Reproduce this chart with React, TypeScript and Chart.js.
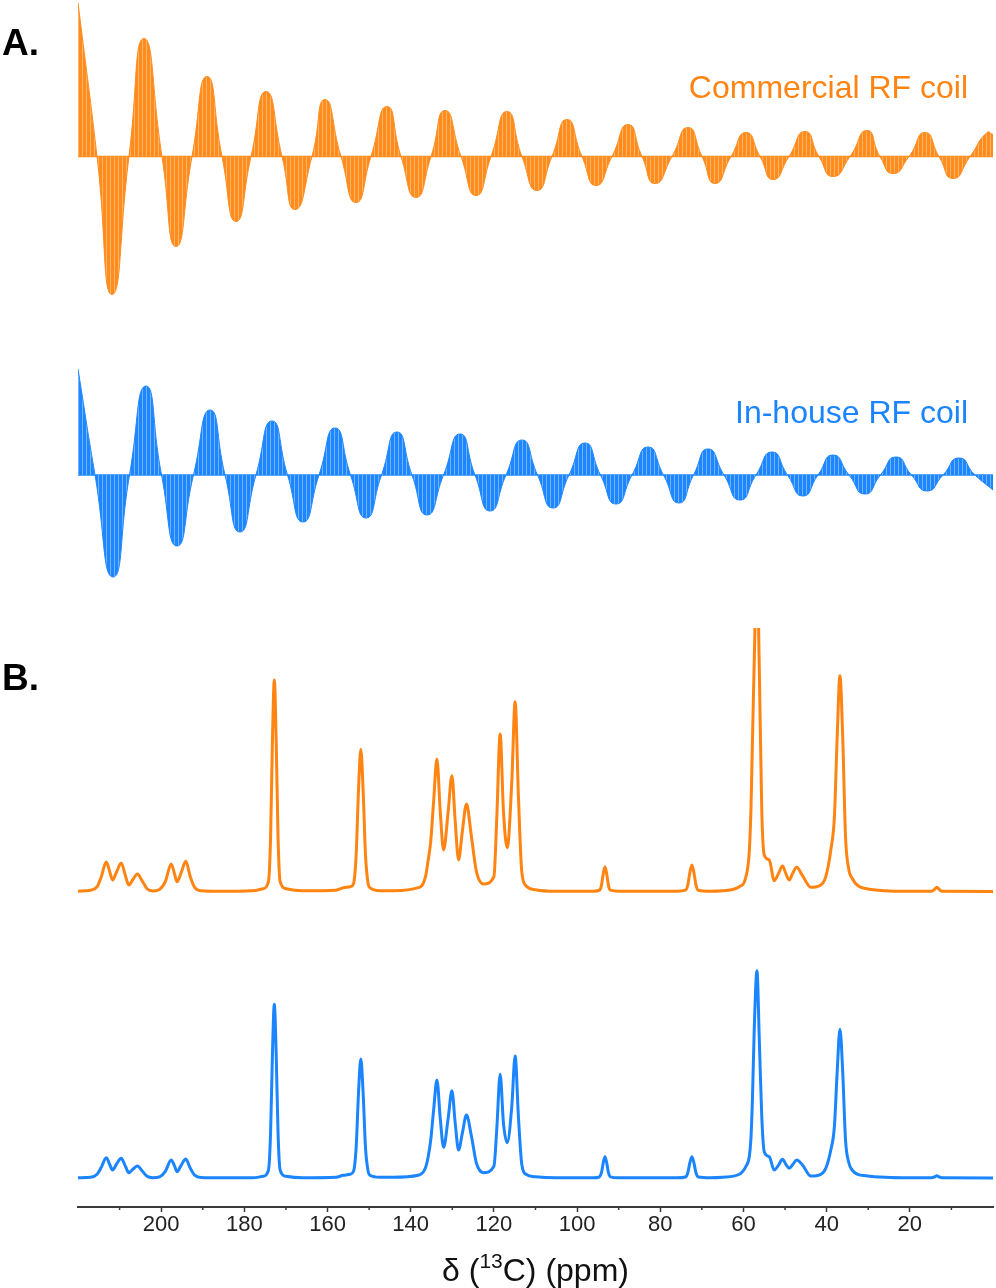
import React, { useEffect, useRef } from 'react';
import { Chart, registerables } from 'chart.js';

Chart.register(...registerables);

const FONT = '"Liberation Sans", Arial, Helvetica, sans-serif';
const ORANGE = '#FF8412';
const BLUE = '#1A85FF';
const ORANGE_FID = '#FF8C1F';
const ORANGE_FID_LIGHT = '#FFB466';
const BLUE_FID = '#1E87FF';
const BLUE_FID_LIGHT = '#70B2FF';

// ---------- Panel A: FIDs (time in ms, amplitude in a.u.; lobe extremes and zero crossings) ----------
const commercialFidTime = [
  0, 2.08, 3.72, 5.57, 7.21, 9.18, 10.71, 12.46, 14.1, 15.74, 17.27, 18.91, 20.55, 22.3, 23.72, 25.57,
  26.99, 28.74, 30.38, 32.02, 33.77, 35.3, 36.94, 38.58, 40.11, 41.86, 43.5, 45.14, 46.89, 48.52, 50.16,
  51.8, 53.44, 55.08, 56.61, 58.36, 60.11, 61.64, 63.06, 64.92, 66.67, 68.2, 69.62, 71.37, 73.01, 74.54,
  75.96, 77.7, 79.45, 80.98, 82.51, 84.37, 86.23, 87.65, 89.07, 90.82, 92.57, 94.1, 95.63, 97.49, 99.34, 100,
];
const commercialFidAmp = [
  154, 0, -138, 0, 118, 0, -90, 0, 80, 0, -65, 0, 65, 0, -53, 0, 57, 0, -46, 0, 50, 0, -41, 0, 46, 0, -39,
  0, 45, 0, -34, 0, 37, 0, -29, 0, 32, 0, -27, 0, 29, 0, -27, 0, 24, 0, -23, 0, 25, 0, -20, 0, 26, 0, -17,
  0, 24, 0, -22, 0, 24, 22,
];
const inHouseFidTime = [
  0, 1.86, 3.83, 5.63, 7.43, 9.13, 10.82, 12.62, 14.43, 16.07, 17.7, 19.45, 21.2, 22.9, 24.59, 26.34,
  28.09, 29.78, 31.48, 33.17, 34.86, 36.5, 38.14, 39.95, 41.75, 43.39, 45.03, 46.78, 48.52, 50.22, 51.91,
  53.66, 55.41, 57.1, 58.8, 60.55, 62.3, 63.99, 65.68, 67.27, 68.85, 70.6, 72.35, 74.1, 75.85, 77.54,
  79.23, 80.87, 82.51, 84.26, 86.01, 87.7, 89.4, 91.09, 92.79, 94.54, 96.28, 98.03, 100,
];
const inHouseFidAmp = [
  106, 0, -102, 0, 89, 0, -71, 0, 65, 0, -57, 0, 54, 0, -47, 0, 47, 0, -43, 0, 43, 0, -40, 0, 41, 0, -36,
  0, 35, 0, -33, 0, 32, 0, -29, 0, 28, 0, -28, 0, 26, 0, -25, 0, 23, 0, -21, 0, 20, 0, -19, 0, 18, 0, -16,
  0, 17, 0, -15,
];
const fidBaselineTime = [0, 100];

// ---------- Panel B: 13C spectra (chemical shift in ppm, intensity in a.u.) ----------
const shiftPpm = [
  220, 217, 215.4, 214.4, 213.2, 212.3, 211.7, 210.7, 209.6, 208.6, 207.8, 206.7, 205.7, 204.6, 203.4, 202,
  200.4, 199, 197.6, 196.8, 196.2, 195.2, 194.1, 193, 191.9, 190.4, 186, 178, 175.5, 174.21, 173.7, 173.25,
  172.8, 172.35, 171.9, 171.39, 170, 166, 158, 156.2, 154.6, 153.76, 153.12, 152.56, 152, 151.44, 150.88,
  150.24, 149.8, 147.4, 144.3, 138.2, 136.5, 135.8, 135.2, 134.5, 133.7, 132.9, 132.1, 131, 130.1, 129.3,
  128.5, 127.6, 126.6, 125.4, 124.2, 122.5, 120, 119.3, 118.5, 117.7, 116.8, 115.7, 114.9, 114.1, 113.3,
  112.3, 110, 105, 96, 94.62, 94.14, 93.72, 93.3, 92.88, 92.46, 91.98, 90, 76, 73.94, 73.38, 72.89, 72.4,
  71.91, 71.42, 70.86, 68, 65, 61, 59.4, 58.6, 58.2, 57.85, 57.4, 56.75, 56.2, 55.6, 55, 53.8, 52.6,
  51.6, 50.6, 49.8, 49, 48.1, 47.2, 45.8, 43.8, 41.4, 40.2, 39, 38.13, 37.47, 36.8, 36.13, 35.47, 34.7,
  33.8, 32.5, 30.6, 26, 20, 14.7, 14.1, 13.5, 12.9, 12.3, 0,
];
const commercialIntensity = [
  0.5, 1.5, 5, 15, 29.7, 19, 11.7, 20, 28.7, 16, 6.7, 13, 17.7, 11, 3, 0.8, 2.3, 10, 27.7, 18, 10, 19,
  30.4, 15, 4, 1, 0.5, 1, 3, 10, 54, 151, 211.7, 151, 54, 10, 3, 1, 1.5, 4, 5, 8, 37, 101, 142.4, 101, 37,
  8, 4, 1, 1, 4, 14, 31.7, 50, 90, 132.7, 80, 41.7, 80, 116, 70, 31.7, 60, 87.7, 55, 20, 7.7, 15, 75,
  157.7, 80, 44, 110, 190, 95, 20, 6, 2, 0.5, 0.5, 1.5, 6.4, 17.8, 25, 17.8, 6.4, 1.5, 0.5, 0.5, 1.5,
  6.9, 19, 26.7, 19, 6.9, 1.5, 0.5, 1, 5, 15, 40, 82, 148, 232, 330, 226, 82, 36.7, 31.7, 11, 18, 25.7,
  18, 11.7, 19, 24.4, 16, 4.4, 6.7, 15, 41.7, 75, 154, 216, 154, 56, 23, 13, 6, 3.2, 1, 0.5, 0.5, 2.2,
  4.4, 2.2, 0.5, 0.3,
];
const inHouseIntensity = [
  0.5, 1, 4, 11, 20.6, 13, 8.3, 14.5, 20, 12, 5.6, 9.5, 12.3, 7.5, 2, 0.6, 1.5, 7, 18.3, 12.5, 6.6, 13,
  19.3, 10, 3, 0.8, 0.5, 0.5, 2, 8, 45, 124, 174, 124, 45, 8, 2, 0.5, 1, 3, 4, 7, 31, 85, 119.3, 85, 31,
  7, 3, 1, 1, 3, 10, 21.6, 38, 68, 98.3, 60, 31, 60, 87.6, 55, 28.3, 45, 63.3, 42, 15, 5.6, 12, 50, 104,
  55, 35.6, 72, 122.3, 61, 14, 4, 1.5, 0.5, 0.5, 1.5, 5.6, 15.4, 21.6, 15.4, 5.6, 1.5, 0.5, 0.5, 1.3,
  5.6, 15.4, 21.6, 15.4, 5.6, 1.3, 0.5, 1, 4, 12, 21.6, 40, 78, 150, 207.6, 140, 62, 26.6, 21.6, 8.3, 13,
  19, 14, 10, 14, 18.3, 13.3, 2.3, 4, 10, 28.3, 52, 106, 149, 106, 39, 16, 8, 4, 2.6, 1, 0.5, 0.5, 1.3,
  2.6, 1.3, 0.5, 0.3,
];

const majorTicksPpm = [200, 180, 160, 140, 120, 100, 80, 60, 40, 20];
const minorTicksPpm = [210, 190, 170, 150, 130, 110, 90, 70, 50, 30, 10];

function stripePattern(base: string, light: string): CanvasPattern | string {
  const c = document.createElement('canvas');
  c.width = 4;
  c.height = 8;
  const g = c.getContext('2d');
  if (!g) return base;
  g.fillStyle = base;
  g.fillRect(0, 0, 4, 8);
  g.fillStyle = light;
  g.fillRect(2, 0, 1, 8);
  return g.createPattern(c, 'repeat') || base;
}

const minorTickPlugin = {
  id: 'minorTicks',
  afterDraw(chart: any) {
    const s = chart.scales.x;
    if (!s || !s.options.display) return;
    const ctx = chart.ctx;
    ctx.save();
    ctx.strokeStyle = '#3a3a3a';
    ctx.lineWidth = 1.5;
    for (const v of minorTicksPpm) {
      const px = s.getPixelForValue(v);
      ctx.beginPath();
      ctx.moveTo(px, s.top);
      ctx.lineTo(px, s.top + 3);
      ctx.stroke();
    }
    // axis title with a real superscript
    const parts = [
      { text: 'δ (', size: 32, rise: 0 },
      { text: '13', size: 21, rise: 13 },
      { text: 'C) (ppm)', size: 32, rise: 0 },
    ];
    let total = 0;
    const widths = parts.map((p) => {
      ctx.font = `${p.size}px ${FONT}`;
      const w = ctx.measureText(p.text).width;
      total += w;
      return w;
    });
    let x = (s.left + s.right) / 2 - total / 2;
    const baseline = s.bottom - 7;
    ctx.fillStyle = '#111';
    ctx.textBaseline = 'alphabetic';
    ctx.textAlign = 'left';
    parts.forEach((p, i) => {
      ctx.font = `${p.size}px ${FONT}`;
      ctx.fillText(p.text, x, baseline - p.rise);
      x += widths[i];
    });
    ctx.restore();
  },
};

export default function App() {
  const fidRef = useRef<HTMLCanvasElement>(null);
  const specRef = useRef<HTMLCanvasElement>(null);

  useEffect(() => {
    if (!fidRef.current || !specRef.current) return;

    const fidChart = new Chart(fidRef.current, {
      type: 'line',
      data: {
        datasets: [
          {
            label: 'Commercial RF coil',
            data: commercialFidTime.map((t, i) => ({ x: t, y: commercialFidAmp[i] })),
            yAxisID: 'yCommercial',
            borderColor: ORANGE_FID,
            borderWidth: 1,
            backgroundColor: stripePattern(ORANGE_FID, ORANGE_FID_LIGHT) as any,
            fill: 'origin',
            pointRadius: 0,
            tension: 0.6,
          },
          {
            label: 'Commercial baseline',
            data: fidBaselineTime.map((t) => ({ x: t, y: 0 })),
            yAxisID: 'yCommercial',
            borderColor: ORANGE_FID,
            borderWidth: 1.5,
            pointRadius: 0,
            fill: false,
          },
          {
            label: 'In-house RF coil',
            data: inHouseFidTime.map((t, i) => ({ x: t, y: inHouseFidAmp[i] })),
            yAxisID: 'yInHouse',
            borderColor: BLUE_FID,
            borderWidth: 1,
            backgroundColor: stripePattern(BLUE_FID, BLUE_FID_LIGHT) as any,
            fill: 'origin',
            pointRadius: 0,
            tension: 0.6,
          },
          {
            label: 'In-house baseline',
            data: fidBaselineTime.map((t) => ({ x: t, y: 0 })),
            yAxisID: 'yInHouse',
            borderColor: BLUE_FID,
            borderWidth: 1.5,
            pointRadius: 0,
            fill: false,
          },
        ],
      },
      options: {
        animation: false,
        responsive: false,
        maintainAspectRatio: false,
        events: [],
        layout: { padding: { left: 78, right: 3, top: 0, bottom: 0 } },
        plugins: { legend: { display: false }, tooltip: { enabled: false } },
        scales: {
          x: { type: 'linear', min: 0, max: 100, display: false },
          yCommercial: { type: 'linear', min: -443.5, max: 156.5, display: false },
          yInHouse: { type: 'linear', min: -125, max: 475, display: false },
        },
      },
    });

    const specChart = new Chart(specRef.current, {
      type: 'line',
      data: {
        datasets: [
          {
            label: 'Commercial RF coil',
            data: shiftPpm.map((p, i) => ({ x: p, y: commercialIntensity[i] })),
            yAxisID: 'yCommercial',
            borderColor: ORANGE,
            borderWidth: 3,
            pointRadius: 0,
            fill: false,
            cubicInterpolationMode: 'monotone',
          },
          {
            label: 'In-house RF coil',
            data: shiftPpm.map((p, i) => ({ x: p, y: inHouseIntensity[i] })),
            yAxisID: 'yInHouse',
            borderColor: BLUE,
            borderWidth: 3,
            pointRadius: 0,
            fill: false,
            cubicInterpolationMode: 'monotone',
          },
        ],
      },
      options: {
        animation: false,
        responsive: false,
        maintainAspectRatio: false,
        events: [],
        layout: { padding: { left: 78, right: 3, top: 0, bottom: 0 } },
        plugins: { legend: { display: false }, tooltip: { enabled: false } },
        scales: {
          x: {
            type: 'linear',
            min: 0,
            max: 220,
            reverse: true,
            position: 'bottom',
            afterBuildTicks: (s: any) => {
              s.ticks = majorTicksPpm.map((v) => ({ value: v }));
            },
            afterFit: (s: any) => {
              s.height = 81;
            },
            ticks: {
              autoSkip: false,
              maxRotation: 0,
              minRotation: 0,
              padding: 0,
              color: '#222',
              font: { family: FONT, size: 22 },
              callback: (v: any) => String(v),
            },
            grid: {
              display: true,
              drawOnChartArea: false,
              drawTicks: true,
              tickLength: 5,
              tickColor: '#3a3a3a',
              tickWidth: 1.5,
            },
            border: { display: true, color: '#3a3a3a', width: 2 },
            title: { display: false, text: 'δ (13C) (ppm)' },
          },
          yCommercial: { type: 'linear', min: -315.3, max: 263.7, display: false },
          yInHouse: { type: 'linear', min: -28.7, max: 550.3, display: false },
        },
      },
      plugins: [minorTickPlugin],
    });

    return () => {
      fidChart.destroy();
      specChart.destroy();
    };
  }, []);

  const panelLabel: React.CSSProperties = {
    position: 'absolute',
    left: 2,
    fontFamily: FONT,
    fontWeight: 'bold',
    fontSize: 37,
    lineHeight: '37px',
    color: '#000',
    whiteSpace: 'nowrap',
  };
  const coilLabel: React.CSSProperties = {
    position: 'absolute',
    right: 28,
    fontFamily: FONT,
    fontSize: 32,
    lineHeight: '32px',
    whiteSpace: 'nowrap',
    textAlign: 'right',
  };

  return (
    <div
      style={{
        position: 'absolute',
        left: 0,
        top: 0,
        width: 996,
        height: 1288,
        background: '#ffffff',
        overflow: 'hidden',
        fontFamily: FONT,
      }}
    >
      <canvas
        ref={fidRef}
        width={996}
        height={600}
        style={{ position: 'absolute', left: 0, top: 0, width: 996, height: 600 }}
      />
      <canvas
        ref={specRef}
        width={996}
        height={660}
        style={{ position: 'absolute', left: 0, top: 628, width: 996, height: 660 }}
      />
      <div style={{ ...panelLabel, top: 24 }}>A.</div>
      <div style={{ ...panelLabel, top: 659 }}>B.</div>
      <div style={{ ...coilLabel, top: 71, color: ORANGE }}>Commercial RF coil</div>
      <div style={{ ...coilLabel, top: 396, color: BLUE }}>In-house RF coil</div>
    </div>
  );
}
